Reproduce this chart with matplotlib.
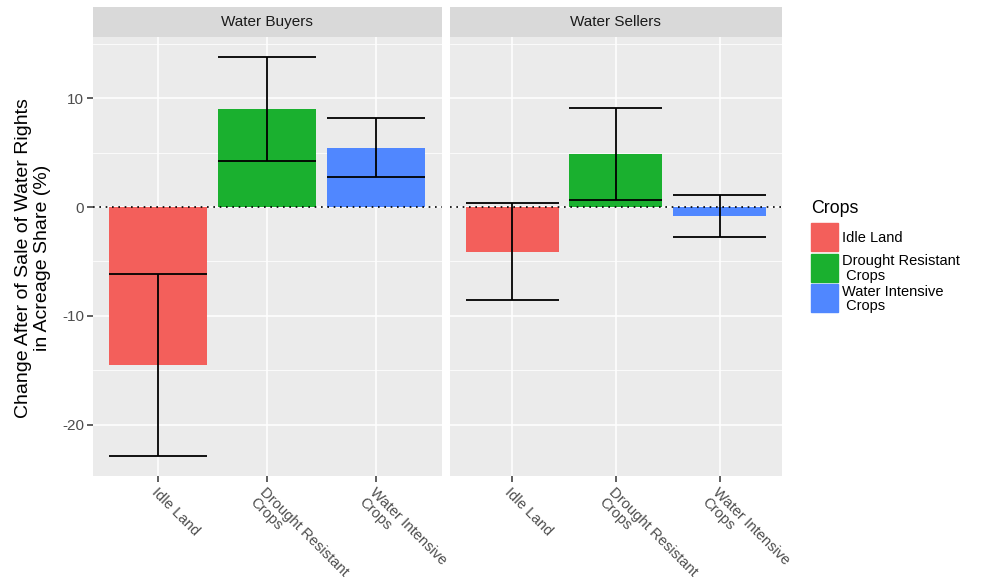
import numpy as np
import matplotlib
matplotlib.use('Agg')
from matplotlib import pyplot as plt
from matplotlib.patches import Rectangle

plt.rcParams['font.family'] = ['Liberation Sans', 'DejaVu Sans']

# data
panels = ['Water Buyers', 'Water Sellers']
crops = ['Idle Land', 'Drought Resistant\nCrops', 'Water Intensive\nCrops']
legend_labels = ['Idle Land', 'Drought Resistant\n Crops', 'Water Intensive\n Crops']
colors = ['#F35F5B', '#1AB02F', '#5087FF']
buyers_mean = [-14.5, 9.05, 5.45]
buyers_err = [8.37, 4.78, 2.73]
sellers_mean = [-4.09, 4.9, -0.82]
sellers_err = [4.42, 4.24, 1.93]
means = [buyers_mean, sellers_mean]
errs = [buyers_err, sellers_err]

W, H = 989, 582
fig = plt.figure(figsize=(W / 100, H / 100), dpi=100)

# y limits with ggplot-style 5% expansion
lo = min(min(np.array(m) - np.array(e)) for m, e in zip(means, errs))
hi = max(max(np.array(m) + np.array(e)) for m, e in zip(means, errs))
pad = 0.05 * (hi - lo)
ylim = (lo - pad, hi + pad)

tick_col = '#4D4D4D'
panel_x = [(93, 441.7), (450, 781.7)]
top, bottom = 36.7, 475.7
strip_top = 7.3

x = np.arange(len(crops))
for i, (name, (x0, x1)) in enumerate(zip(panels, panel_x)):
    ax = fig.add_axes([x0 / W, 1 - bottom / H, (x1 - x0) / W, (bottom - top) / H])
    ax.set_facecolor('#EBEBEB')
    for s in ax.spines.values():
        s.set_visible(False)
    ax.set_xlim(-0.6, len(crops) - 0.4)
    ax.set_ylim(*ylim)
    ax.set_yticks([-20, -10, 0, 10])
    ax.set_yticks([-15, -5, 5, 15], minor=True)
    ax.grid(True, which='major', color='white', lw=1.1)
    ax.grid(True, which='minor', axis='y', color='white', lw=0.55)
    ax.set_axisbelow(True)

    m = np.array(means[i])
    e = np.array(errs[i])
    ax.bar(x, m, width=0.9, color=colors, zorder=2)
    ax.vlines(x, m - e, m + e, color='black', lw=1.3, zorder=3)
    ax.hlines(m - e, x - 0.45, x + 0.45, color='black', lw=1.3, zorder=3)
    ax.hlines(m + e, x - 0.45, x + 0.45, color='black', lw=1.3, zorder=3)
    ax.axhline(0, color='black', lw=1.2, linestyle=(0, (1, 2.8)), zorder=4)

    ax.set_xticks(x)
    ax.set_xticklabels(crops, rotation=-45, ha='left', va='top',
                       rotation_mode='anchor', fontsize=10.6, color=tick_col,
                       multialignment='left', linespacing=1.0)
    ax.tick_params(axis='both', which='major', length=4, width=1.1,
                   color='#333333', pad=2.5)
    ax.tick_params(axis='y', which='minor', length=0)
    if i == 0:
        ax.set_yticklabels(['-20', '-10', '0', '10'], fontsize=11, color=tick_col)
    else:
        ax.tick_params(axis='y', which='major', length=0, labelleft=False)

    # facet strip
    sax = fig.add_axes([x0 / W, 1 - top / H, (x1 - x0) / W, (top - strip_top) / H])
    sax.set_facecolor('#D9D9D9')
    sax.set_xticks([])
    sax.set_yticks([])
    for s in sax.spines.values():
        s.set_visible(False)
    sax.text(0.5, 0.5, name, ha='center', va='center', fontsize=11,
             color='#1A1A1A', transform=sax.transAxes)

fig.text(33 / W, 1 - 258 / H,
         'Change After of Sale of Water Rights\nin Acreage Share (%)',
         rotation=90, ha='center', va='center', fontsize=14,
         multialignment='center', linespacing=1.1)

# legend
fig.text(811 / W, 1 - 208 / H, 'Crops', ha='left', va='center', fontsize=12.8)
key_w, key_h, key_gap = 27, 28, 2.5
for k, (lab, col) in enumerate(zip(legend_labels, colors)):
    ky = 223 + k * (key_h + key_gap)
    fig.patches.append(Rectangle((811 / W, 1 - (ky + key_h) / H), key_w / W, key_h / H,
                                 transform=fig.transFigure, color=col))
    fig.text(842 / W, 1 - (ky + key_h / 2 + 1) / H, lab, ha='left', va='center',
             fontsize=10.5, linespacing=1.05)

fig.savefig('out.png', dpi=100)
